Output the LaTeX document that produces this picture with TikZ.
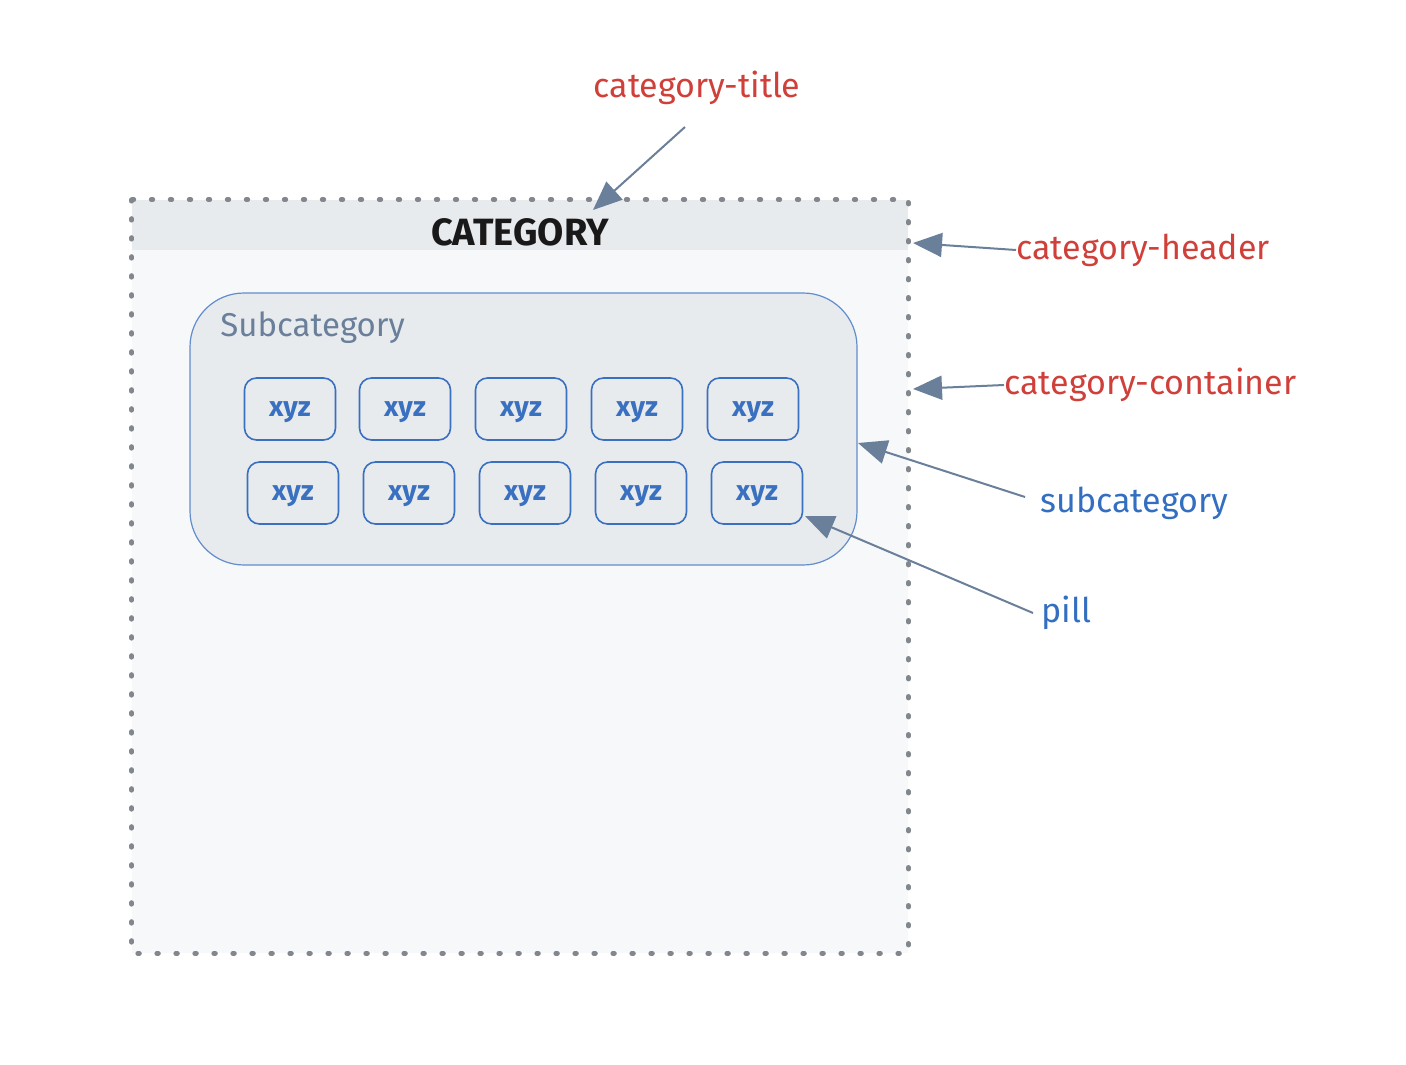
\documentclass[tikz,border=0pt]{standalone}
\usepackage{fontspec}
\setmainfont{Fira Sans}
\usetikzlibrary{arrows.meta,positioning}

\definecolor{notered}{RGB}{208,64,58}
\definecolor{noteblue}{RGB}{52,110,192}
\definecolor{pillblue}{RGB}{58,112,192}
\definecolor{slate}{RGB}{106,127,153}
\definecolor{dotgray}{RGB}{130,135,142}
\definecolor{bodyfill}{RGB}{247,248,250}
\definecolor{headfill}{RGB}{232,235,238}

\tikzset{
  note/.style={inner sep=0pt, font=\fontsize{17}{20}\selectfont, text=notered},
  bluenote/.style={note, text=noteblue},
  pill/.style={draw=pillblue, fill=headfill, rounded corners=6pt, line width=0.8pt,
    minimum width=45.5pt, minimum height=31pt, inner sep=0pt, text depth=0pt,
    font=\bfseries\fontsize{14}{16}\selectfont, text=pillblue},
  pointer/.style={draw=slate, line width=1pt, -{Triangle[length=14.5pt,width=12pt]}},
  dotline/.style={draw=dotgray, line width=2.4pt, line cap=round, dash pattern=on 0.8pt off 8.7pt},
}

\begin{document}
\begin{tikzpicture}[x=0.5pt,y=-0.5pt]
\useasboundingbox (0,0) rectangle (1406,1064);

% category container and header
\node[fill=bodyfill, minimum width=388pt, minimum height=376.5pt, inner sep=0pt] (container) at (520,576.5) {};
\node[fill=headfill, minimum width=388pt, minimum height=25pt, inner sep=0pt] (header) at (520,225) {};
\draw[dotline] (container.north west) rectangle (container.south east);
\node[font=\bfseries\fontsize{19}{22}\selectfont, text=black!90] (title) at (520,232) {CATEGORY};

% subcategory
\node[draw=pillblue!80, fill=headfill, line width=0.6pt, rounded corners=27pt,
  minimum width=333.5pt, minimum height=136pt, inner sep=0pt] (sub) at (523.5,429) {};
\node[anchor=west, inner sep=0pt, font=\fontsize{16.5}{19}\selectfont, text=slate] (subname) at (220,328) {Subcategory};

% pills
\foreach \x [count=\i] in {290,405,521,637,753}
  \node[pill] (p\i) at (\x,409) {xyz};
\foreach \x [count=\i] in {293,409,525,641,757}
  \node[pill] (q\i) at (\x,493) {xyz};

% labels
\node[note] (ttl) at (697,88) {category-title};
\node[note, anchor=west] (hdr) at (1016,250) {category-header};
\node[note, anchor=west] (ctr) at (1004,385) {category-container};
\node[bluenote, anchor=west] (subl) at (1040,503) {subcategory};
\node[bluenote, anchor=west] (pl) at (1041,613) {pill};

\coordinate (ttlfrom) at (685,127);
\coordinate (ttlto) at (593,210);
\coordinate (hdrto) at (913,243);
\coordinate (ctrto) at (913,389);
\coordinate (subfrom) at (1025,497);
\coordinate (subto) at (858,443);
\coordinate (plfrom) at (1033,613);
\coordinate (plto) at (805,516);

\draw[pointer] (ttlfrom) -- (ttlto);
\draw[pointer] (hdr.west) -- (hdrto);
\draw[pointer] (ctr.west) -- (ctrto);
\draw[pointer] (subfrom) -- (subto);
\draw[pointer] (plfrom) -- (plto);
\end{tikzpicture}
\end{document}
